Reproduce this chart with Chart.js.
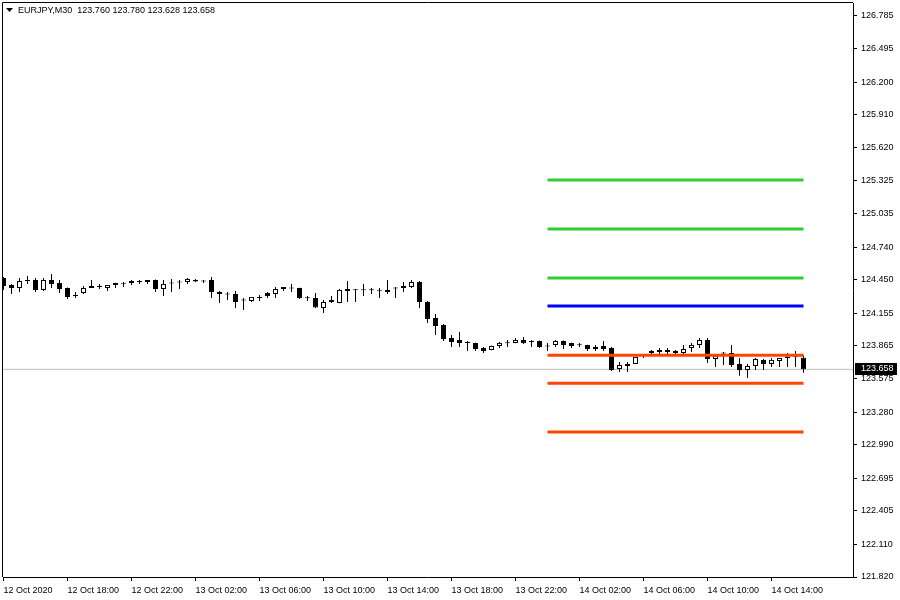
<!DOCTYPE html>
<html>
<head>
<meta charset="utf-8">
<script src="https://cdn.jsdelivr.net/npm/chart.js@4.4.0/dist/chart.umd.min.js"></script>
<style>
html, body { margin: 0; padding: 0; background: #fff; }
</style>
</head>
<body>
<canvas id="chart" width="900" height="600"></canvas>
<script>
const symbol = 'EURJPY,M30';

// M30 bars, 12 Oct 2020 14:00 .. 14 Oct 2020 16:00
const opens = [
    124.467, 124.405, 124.378, 124.449, 124.449, 124.361, 124.449, 124.422, 124.378, 124.307,
    124.334, 124.378, 124.396, 124.378, 124.422, 124.414, 124.422, 124.440, 124.431, 124.449,
    124.369, 124.422, 124.431, 124.431, 124.449, 124.440, 124.449, 124.343, 124.325, 124.325,
    124.272, 124.263, 124.290, 124.334, 124.325, 124.369, 124.378, 124.378, 124.290, 124.290,
    124.201, 124.254, 124.246, 124.369, 124.361, 124.361, 124.361, 124.352, 124.343, 124.378,
    124.378, 124.387, 124.431, 124.254, 124.113, 124.051, 123.936, 123.918, 123.900, 123.892,
    123.847, 123.830, 123.865, 123.892, 123.892, 123.918, 123.909, 123.909, 123.865, 123.874,
    123.909, 123.892, 123.874, 123.874, 123.856, 123.865, 123.847, 123.661, 123.688, 123.706,
    123.777, 123.803, 123.830, 123.830, 123.821, 123.803, 123.847, 123.874, 123.918, 123.750,
    123.803, 123.803, 123.706, 123.653, 123.688, 123.741, 123.706, 123.732, 123.768, 123.768,
    123.760
];
const highs = [
    124.476, 124.414, 124.467, 124.484, 124.467, 124.467, 124.502, 124.449, 124.382, 124.343,
    124.396, 124.449, 124.414, 124.405, 124.424, 124.431, 124.449, 124.449, 124.449, 124.452,
    124.449, 124.458, 124.449, 124.467, 124.458, 124.449, 124.476, 124.352, 124.343, 124.352,
    124.290, 124.299, 124.316, 124.343, 124.387, 124.387, 124.414, 124.380, 124.307, 124.334,
    124.272, 124.307, 124.369, 124.440, 124.369, 124.414, 124.378, 124.378, 124.449, 124.387,
    124.431, 124.449, 124.440, 124.263, 124.148, 124.060, 123.962, 123.989, 123.909, 123.894,
    123.856, 123.869, 123.900, 123.918, 123.936, 123.945, 123.918, 123.912, 123.892, 123.918,
    123.912, 123.894, 123.892, 123.876, 123.874, 123.909, 123.856, 123.723, 123.723, 123.768,
    123.785, 123.830, 123.847, 123.847, 123.830, 123.874, 123.892, 123.936, 123.936, 123.785,
    123.812, 123.874, 123.759, 123.706, 123.759, 123.750, 123.759, 123.759, 123.803, 123.821,
    123.780
];
const lows = [
    124.361, 124.325, 124.343, 124.414, 124.343, 124.352, 124.378, 124.334, 124.281, 124.290,
    124.325, 124.378, 124.369, 124.352, 124.378, 124.387, 124.405, 124.414, 124.414, 124.343,
    124.307, 124.343, 124.369, 124.414, 124.431, 124.422, 124.290, 124.246, 124.272, 124.201,
    124.184, 124.254, 124.263, 124.290, 124.290, 124.352, 124.343, 124.281, 124.263, 124.201,
    124.157, 124.246, 124.242, 124.254, 124.254, 124.307, 124.325, 124.290, 124.325, 124.290,
    124.343, 124.378, 124.201, 124.069, 123.962, 123.909, 123.856, 123.856, 123.821, 123.821,
    123.803, 123.826, 123.847, 123.856, 123.888, 123.883, 123.856, 123.847, 123.821, 123.856,
    123.838, 123.847, 123.856, 123.821, 123.821, 123.821, 123.644, 123.635, 123.635, 123.704,
    123.759, 123.785, 123.785, 123.785, 123.794, 123.785, 123.812, 123.847, 123.715, 123.679,
    123.697, 123.679, 123.600, 123.582, 123.653, 123.653, 123.679, 123.679, 123.679, 123.679,
    123.628
];
const closes = [
    124.396, 124.378, 124.440, 124.440, 124.361, 124.449, 124.414, 124.369, 124.299, 124.316,
    124.378, 124.396, 124.387, 124.405, 124.405, 124.410, 124.440, 124.431, 124.449, 124.369,
    124.414, 124.418, 124.427, 124.458, 124.436, 124.436, 124.343, 124.325, 124.320, 124.254,
    124.268, 124.299, 124.295, 124.307, 124.369, 124.387, 124.374, 124.290, 124.286, 124.205,
    124.254, 124.272, 124.361, 124.352, 124.357, 124.357, 124.357, 124.348, 124.361, 124.374,
    124.396, 124.431, 124.254, 124.104, 124.042, 123.927, 123.900, 123.892, 123.892, 123.838,
    123.821, 123.865, 123.892, 123.888, 123.918, 123.892, 123.900, 123.856, 123.861, 123.909,
    123.874, 123.865, 123.870, 123.838, 123.838, 123.838, 123.653, 123.697, 123.706, 123.768,
    123.773, 123.821, 123.812, 123.812, 123.803, 123.838, 123.874, 123.918, 123.750, 123.777,
    123.799, 123.697, 123.653, 123.688, 123.750, 123.706, 123.741, 123.759, 123.759, 123.764,
    123.658
];

// one label every 8 bars (4 hours)
const timeLabels = [
    '12 Oct 2020', '12 Oct 18:00', '12 Oct 22:00', '13 Oct 02:00', '13 Oct 06:00',
    '13 Oct 10:00', '13 Oct 14:00', '13 Oct 18:00', '13 Oct 22:00', '14 Oct 02:00',
    '14 Oct 06:00', '14 Oct 10:00', '14 Oct 14:00'
];
const priceTicks = [
    '121.820', '122.110', '122.405', '122.695', '122.990', '123.280', '123.575', '123.865', '124.155',
    '124.450', '124.740', '125.035', '125.325', '125.620', '125.910', '126.200', '126.495', '126.785'
];

// daily levels, drawn from 14 Oct 00:00 (bar 68) to the last bar
const levels = [125.334, 124.900, 124.467, 124.219, 123.783, 123.535, 123.104];
const levelColors = ['#32cd32', '#32cd32', '#32cd32', '#0000ff', '#ff4500', '#ff4500', '#ff4500'];
const levelStart = 68;

const barStep = 8;
const xMin = -0.0625;
const xMax = 106.1875;
const last = closes.length - 1;
const bid = closes[last];
const idx = closes.map((_, i) => i);

Chart.defaults.font.family = '"Liberation Sans", Arial, sans-serif';
Chart.defaults.font.size = 9;
Chart.defaults.color = '#000';

const mtFrame = {
    id: 'mtFrame',
    afterDraw(chart) {
        const { ctx, chartArea: a, scales: { y } } = chart;
        ctx.save();
        ctx.strokeStyle = '#000';
        ctx.lineWidth = 1;
        ctx.beginPath();
        ctx.moveTo(a.left - 0.5, a.bottom);
        ctx.lineTo(a.left - 0.5, a.top - 0.5);
        ctx.lineTo(a.right, a.top - 0.5);
        ctx.stroke();

        // header line with last bar OHLC
        ctx.fillStyle = '#000';
        ctx.font = '9px "Liberation Sans", Arial, sans-serif';
        ctx.textBaseline = 'middle';
        const ohlc = [opens[last], highs[last], lows[last], closes[last]].map(v => v.toFixed(3)).join(' ');
        ctx.fillText(symbol + '  ' + ohlc, a.left + 15, a.top + 8);
        ctx.beginPath();
        ctx.moveTo(a.left + 3, a.top + 5);
        ctx.lineTo(a.left + 10, a.top + 5);
        ctx.lineTo(a.left + 6.5, a.top + 9);
        ctx.closePath();
        ctx.fill();

        // bid price marker on the axis
        const py = Math.round(y.getPixelForValue(bid));
        ctx.fillRect(a.right + 2, py - 6, 42, 12);
        ctx.fillStyle = '#fff';
        ctx.fillText(bid.toFixed(3), a.right + 8, py);
        ctx.restore();
    }
};

const datasets = levels.map((lv, k) => ({
    type: 'line',
    data: [{ x: levelStart, y: lv }, { x: last, y: lv }],
    borderColor: levelColors[k],
    borderWidth: 3,
    pointRadius: 0,
    order: 0
}));

datasets.push({
    type: 'bar',
    data: idx.map(i => ({ x: i, y: [opens[i], closes[i]] })),
    backgroundColor: idx.map(i => closes[i] >= opens[i] ? '#ffffff' : '#000000'),
    borderColor: '#000',
    borderWidth: 1,
    borderSkipped: false,
    barThickness: 5,
    minBarLength: 1,
    inflateAmount: 0,
    grouped: false,
    order: 1
});

datasets.push({
    type: 'bar',
    data: idx.map(i => ({ x: i, y: [lows[i], highs[i]] })),
    backgroundColor: '#000',
    borderWidth: 0,
    barThickness: 1,
    inflateAmount: 0,
    grouped: false,
    order: 2
});

datasets.push({
    type: 'line',
    data: [{ x: xMin, y: bid }, { x: xMax, y: bid }],
    borderColor: '#c0c0c0',
    borderWidth: 1,
    pointRadius: 0,
    order: 3
});

new Chart(document.getElementById('chart'), {
    type: 'bar',
    data: { datasets: datasets },
    options: {
        responsive: false,
        animation: false,
        events: [],
        layout: { padding: { left: 3, top: 3, right: 0, bottom: 0 } },
        plugins: {
            legend: { display: false },
            tooltip: { enabled: false }
        },
        scales: {
            x: {
                type: 'linear',
                min: xMin,
                max: xMax,
                offset: false,
                grid: { drawOnChartArea: false, drawTicks: true, tickLength: 4, color: '#000', offset: false },
                border: { color: '#000' },
                ticks: {
                    autoSkip: false,
                    maxRotation: 0,
                    align: 'start',
                    padding: 4,
                    callback: v => timeLabels[Math.round(v / barStep)]
                },
                afterBuildTicks: s => { s.ticks = timeLabels.map((t, k) => ({ value: k * barStep })); },
                afterFit: s => {
                    s.height = 23;
                    s.paddingLeft = 0;
                    s.paddingRight = 0;
                }
            },
            y: {
                type: 'linear',
                position: 'right',
                min: 121.820,
                max: 126.900,
                grid: { drawOnChartArea: false, drawTicks: true, tickLength: 4, color: '#000' },
                border: { color: '#000' },
                ticks: {
                    autoSkip: false,
                    padding: 4,
                    callback: v => v.toFixed(3)
                },
                afterBuildTicks: s => { s.ticks = priceTicks.map(t => ({ value: parseFloat(t) })); },
                afterFit: s => {
                    s.width = 47;
                    s.paddingTop = 0;
                    s.paddingBottom = 0;
                }
            }
        }
    },
    plugins: [mtFrame]
});
</script>
</body>
</html>
